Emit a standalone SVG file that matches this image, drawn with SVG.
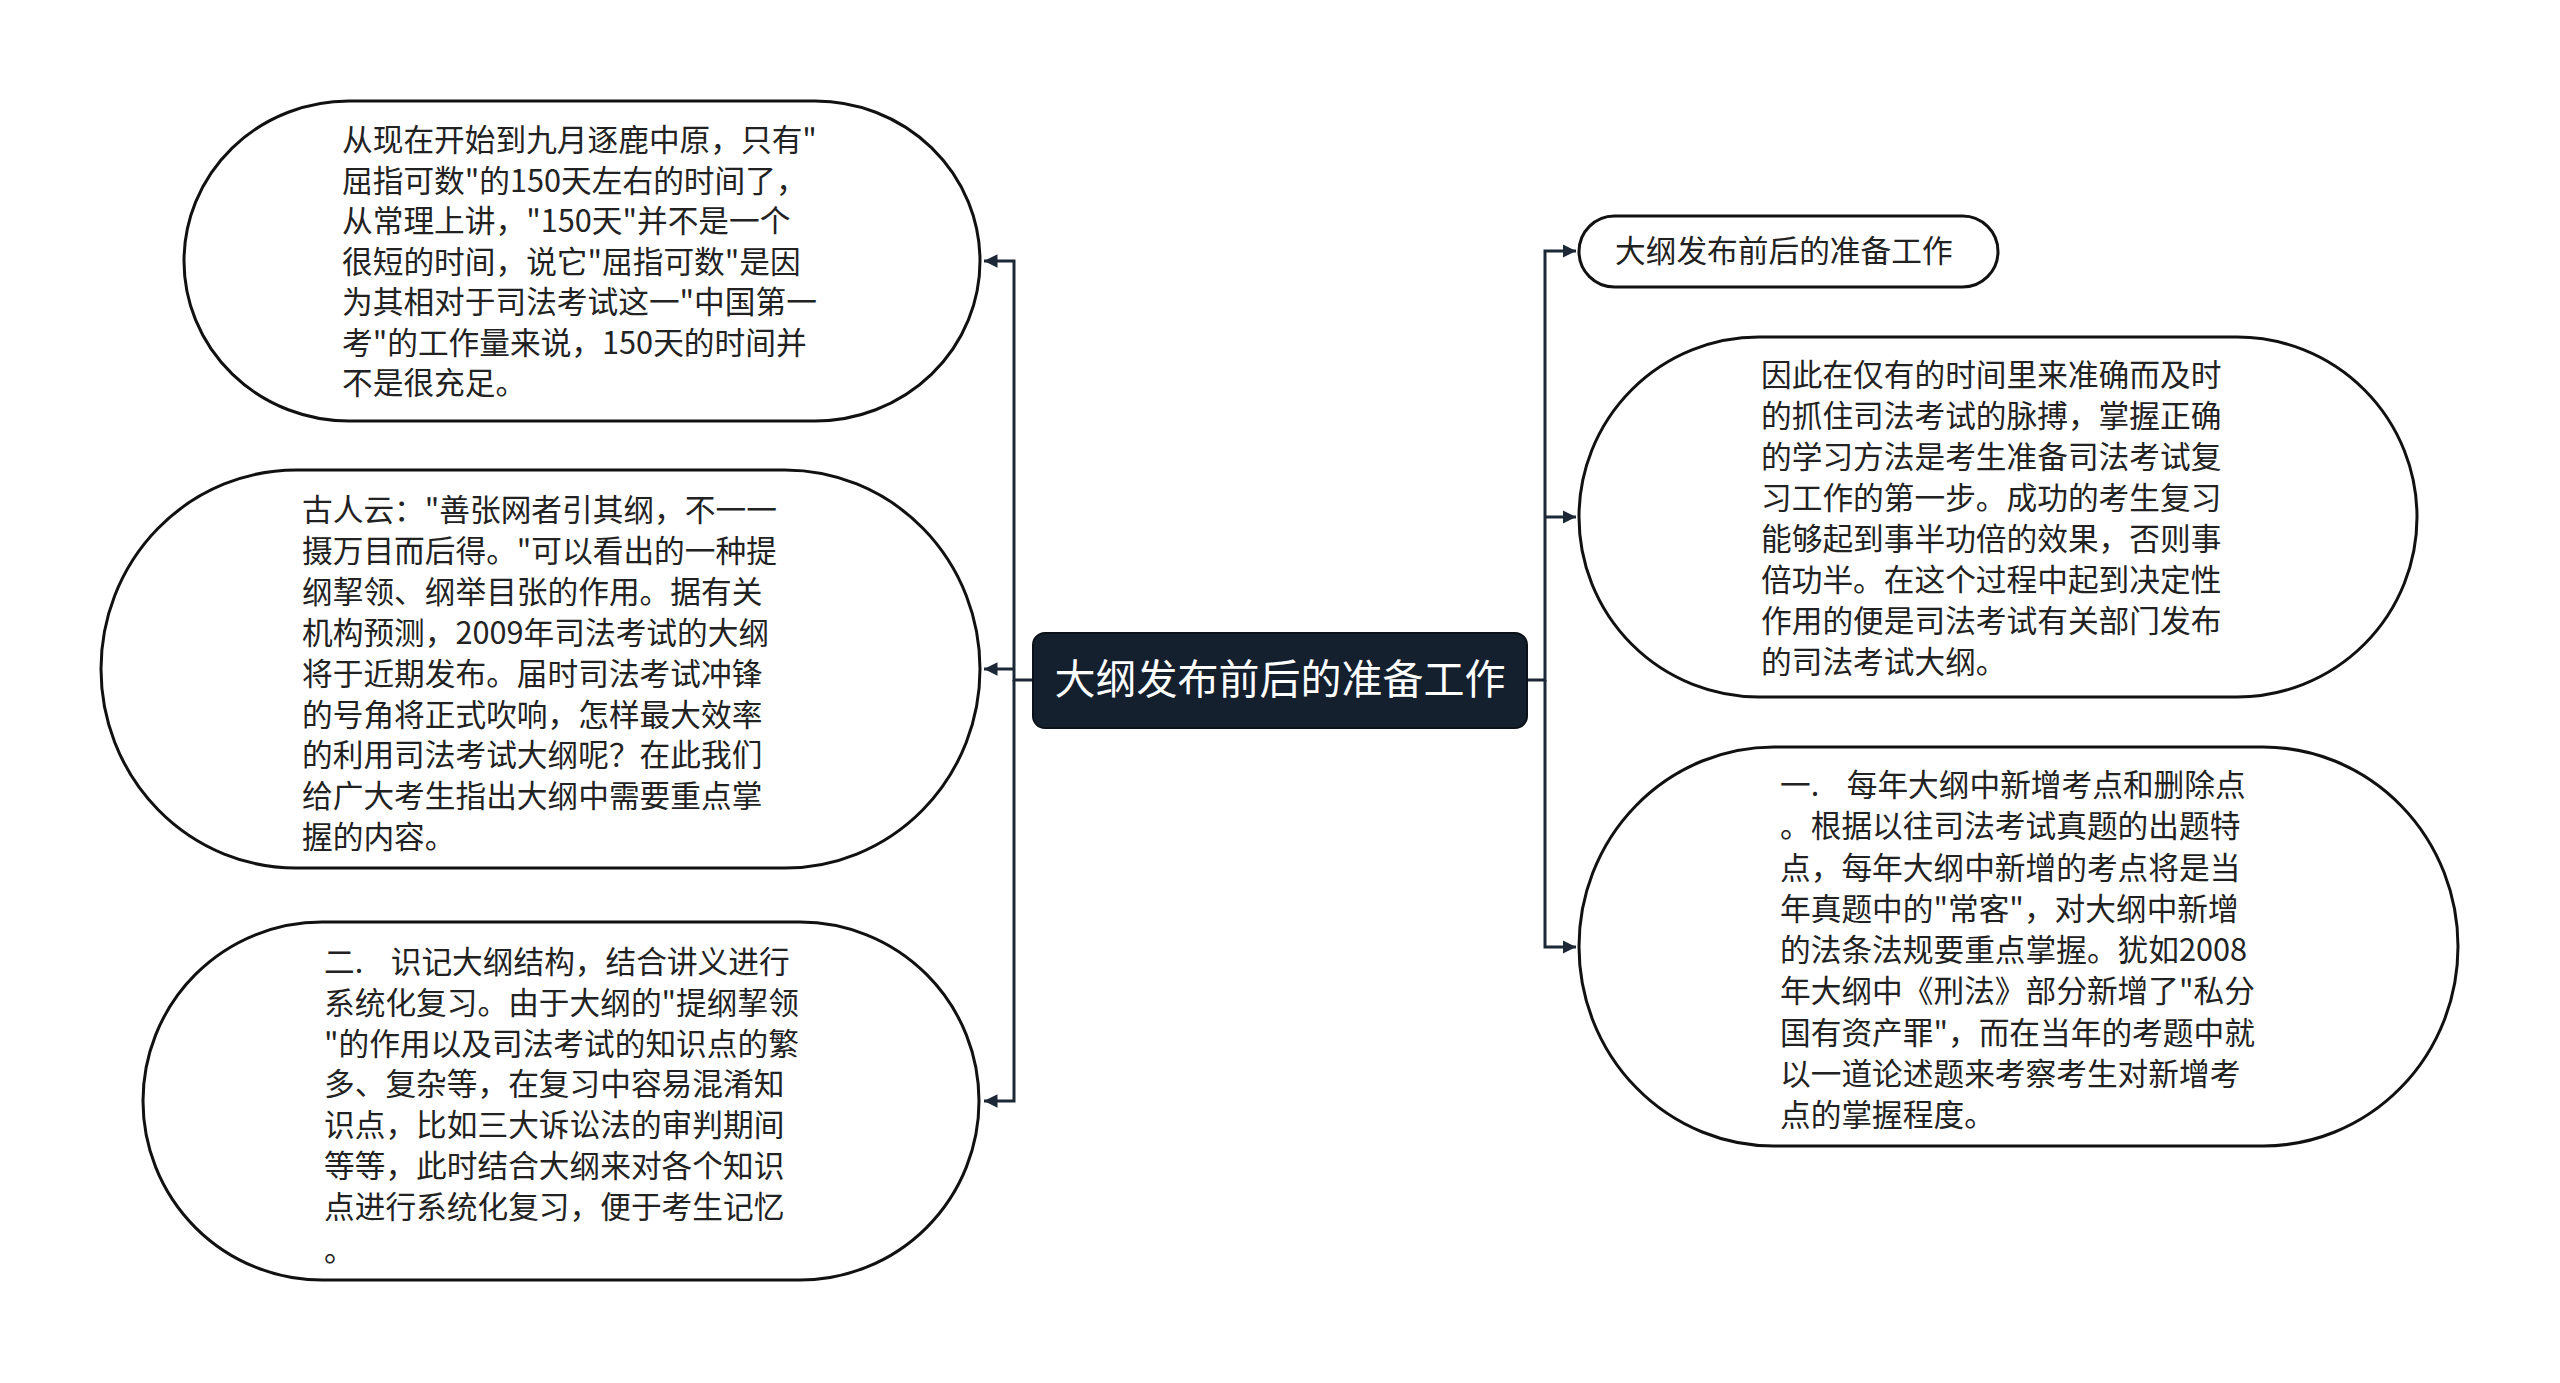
<svg xmlns="http://www.w3.org/2000/svg" width="2560" height="1383" viewBox="0 0 2560 1383">
<defs>
<marker id="arr" viewBox="0 0 10 10" refX="10" refY="5" markerWidth="4.5" markerHeight="4.5" markerUnits="strokeWidth" orient="auto">
<path d="M0,0 L10,5 L0,10 Z" fill="#1c2836"/>
</marker>
<style>
.node{fill:#ffffff;stroke:#111111;stroke-width:3}
.t{font-family:"Noto Sans CJK SC","Microsoft YaHei",sans-serif;font-size:30.7px;fill:#222222;white-space:pre}
.conn{fill:none;stroke:#1c2836;stroke-width:3}
.root{fill:#15202f;stroke:#0b1119;stroke-width:2}
.rt{font-family:"Noto Sans CJK SC",sans-serif;font-size:41px;fill:#ffffff;text-anchor:middle}
</style>
</defs>
<rect width="2560" height="1383" fill="#ffffff"/>
<g id="connectors">
<path class="conn" d="M1033,680 H1014 V261 H984" marker-end="url(#arr)"/>
<path class="conn" d="M1014,669 H984" marker-end="url(#arr)"/>
<path class="conn" d="M1014,680 V1101 H984" marker-end="url(#arr)"/>
<path class="conn" d="M1527,680 H1545 V251 H1576" marker-end="url(#arr)"/>
<path class="conn" d="M1545,517 H1576" marker-end="url(#arr)"/>
<path class="conn" d="M1545,680 V947 H1576" marker-end="url(#arr)"/>
</g>
<g id="root">
<rect class="root" x="1033" y="633" width="494" height="95" rx="12"/>
<text class="rt" x="1280" y="694">大纲发布前后的准备工作</text>
</g>
<g id="left1">
<rect class="node" x="184" y="101" width="796" height="320" rx="165" ry="160"/>
<text class="t" x="342" y="151"><tspan x="342">从现在开始到九月逐鹿中原，只有"</tspan><tspan x="342" dy="40.5">屈指可数"的150天左右的时间了，</tspan><tspan x="342" dy="40.5">从常理上讲，"150天"并不是一个</tspan><tspan x="342" dy="40.5">很短的时间，说它"屈指可数"是因</tspan><tspan x="342" dy="40.5">为其相对于司法考试这一"中国第一</tspan><tspan x="342" dy="40.5">考"的工作量来说，150天的时间并</tspan><tspan x="342" dy="40.5">不是很充足。</tspan></text>
</g>
<g id="left2">
<rect class="node" x="101" y="470" width="879" height="398" rx="195" ry="199"/>
<text class="t" x="302" y="521"><tspan x="302">古人云："善张网者引其纲，不一一</tspan><tspan x="302" dy="40.9">摄万目而后得。"可以看出的一种提</tspan><tspan x="302" dy="40.9">纲挈领、纲举目张的作用。据有关</tspan><tspan x="302" dy="40.9">机构预测，2009年司法考试的大纲</tspan><tspan x="302" dy="40.9">将于近期发布。届时司法考试冲锋</tspan><tspan x="302" dy="40.9">的号角将正式吹响，怎样最大效率</tspan><tspan x="302" dy="40.9">的利用司法考试大纲呢？在此我们</tspan><tspan x="302" dy="40.9">给广大考生指出大纲中需要重点掌</tspan><tspan x="302" dy="40.9">握的内容。</tspan></text>
</g>
<g id="left3">
<rect class="node" x="143" y="922" width="836" height="358" rx="179" ry="179"/>
<text class="t" x="324" y="973"><tspan x="324">二.    识记大纲结构，结合讲义进行</tspan><tspan x="324" dy="40.8">系统化复习。由于大纲的"提纲挈领</tspan><tspan x="324" dy="40.8">"的作用以及司法考试的知识点的繁</tspan><tspan x="324" dy="40.8">多、复杂等，在复习中容易混淆知</tspan><tspan x="324" dy="40.8">识点，比如三大诉讼法的审判期间</tspan><tspan x="324" dy="40.8">等等，此时结合大纲来对各个知识</tspan><tspan x="324" dy="40.8">点进行系统化复习，便于考生记忆</tspan><tspan x="324" dy="43">。</tspan></text>
</g>
<g id="right1">
<rect class="node" x="1579" y="216" width="419" height="71" rx="35.5"/>
<text class="t" x="1615" y="262">大纲发布前后的准备工作</text>
</g>
<g id="right2">
<rect class="node" x="1579" y="337" width="838" height="360" rx="180" ry="180"/>
<text class="t" x="1761" y="386"><tspan x="1761">因此在仅有的时间里来准确而及时</tspan><tspan x="1761" dy="41">的抓住司法考试的脉搏，掌握正确</tspan><tspan x="1761" dy="41">的学习方法是考生准备司法考试复</tspan><tspan x="1761" dy="41">习工作的第一步。成功的考生复习</tspan><tspan x="1761" dy="41">能够起到事半功倍的效果，否则事</tspan><tspan x="1761" dy="41">倍功半。在这个过程中起到决定性</tspan><tspan x="1761" dy="41">作用的便是司法考试有关部门发布</tspan><tspan x="1761" dy="41">的司法考试大纲。</tspan></text>
</g>
<g id="right3">
<rect class="node" x="1579" y="747" width="879" height="399" rx="195" ry="199.5"/>
<text class="t" x="1780" y="796"><tspan x="1780">一.    每年大纲中新增考点和删除点</tspan><tspan x="1780" dy="41.25">。根据以往司法考试真题的出题特</tspan><tspan x="1780" dy="41.25">点，每年大纲中新增的考点将是当</tspan><tspan x="1780" dy="41.25">年真题中的"常客"，对大纲中新增</tspan><tspan x="1780" dy="41.25">的法条法规要重点掌握。犹如2008</tspan><tspan x="1780" dy="41.25">年大纲中《刑法》部分新增了"私分</tspan><tspan x="1780" dy="41.25">国有资产罪"，而在当年的考题中就</tspan><tspan x="1780" dy="41.25">以一道论述题来考察考生对新增考</tspan><tspan x="1780" dy="41.25">点的掌握程度。</tspan></text>
</g>
</svg>
